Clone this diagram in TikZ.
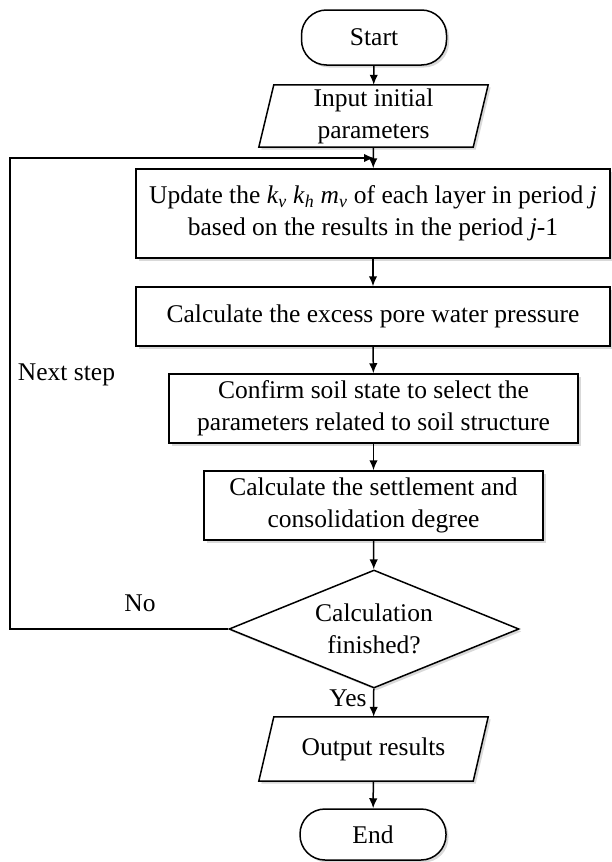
\documentclass[tikz,border=0pt]{standalone}
\usepackage{fontspec}
\setmainfont{Liberation Serif}
\usetikzlibrary{shapes.geometric,shadows,arrows.meta,backgrounds}
\begin{document}
\begin{tikzpicture}[x=1pt,y=-1pt,
  font=\fontsize{25.5}{32}\selectfont,
  shade/.style={drop shadow={shadow xshift=2.5pt, shadow yshift=-2.5pt, opacity=0.3}},
  base/.style={draw=black, line width=1.5pt, fill=white, align=center, inner sep=0pt, shade},
  procbox/.style={base, rectangle},
  termbox/.style={base, rectangle, rounded corners=25pt},
  iotext/.style={rectangle, align=center, inner sep=0pt},
  iopath/.style={draw=black, line width=1.5pt, fill=white, shade},
  decbox/.style={base, diamond, shape aspect=2.46, inner xsep=-6pt, inner ysep=-6pt},
  arr/.style={line width=1.5pt, -{Latex[length=10pt,width=8.5pt]}},
  lbl/.style={inner sep=0pt}
]
\useasboundingbox (0,0) rectangle (612,862);

\node[termbox, minimum width=145pt, minimum height=55pt] (start) at (374,37.5) {Start};
\node[iotext, minimum width=214pt, minimum height=62pt] (input) at (373.5,116) {Input initial\\parameters};
\node[procbox, minimum width=474pt, minimum height=89pt] (update) at (373,213.5)
  {Update the \textit{k}\textsubscript{\textit{v}} \textit{k}\textsubscript{\textit{h}} \textit{m}\textsubscript{\textit{v}} of each layer in period \textit{j}\\based on the results in the period \textit{j}-1};
\node[procbox, minimum width=474pt, minimum height=59pt] (excess) at (373,316.5) {Calculate the excess pore water pressure};
\node[procbox, minimum width=409pt, minimum height=69pt] (confirm) at (373.5,408.5) {Confirm soil state to select the\\parameters related to soil structure};
\node[procbox, minimum width=339pt, minimum height=69pt] (settle) at (373.5,505.5) {Calculate the settlement and\\consolidation degree};
\node[decbox, minimum width=290pt, minimum height=118pt] (dec) at (374,629) {Calculation\\finished?};
\node[iotext, minimum width=214pt, minimum height=64pt] (output) at (373.5,749) {Output results};
\node[termbox, minimum width=146pt, minimum height=51pt] (end) at (373,834.5) {End};

\begin{scope}[on background layer]
  \path[iopath] ([xshift=7.5pt]input.north west) -- ([xshift=7.5pt]input.north east)
    -- ([xshift=-7.5pt]input.south east) -- ([xshift=-7.5pt]input.south west) -- cycle;
  \path[iopath] ([xshift=7.5pt]output.north west) -- ([xshift=7.5pt]output.north east)
    -- ([xshift=-7.5pt]output.south east) -- ([xshift=-7.5pt]output.south west) -- cycle;
\end{scope}

\coordinate (loopL) at (10,158);
\coordinate (loopJ) at (374,158);

\draw[arr] (start) -- (input);
\draw[arr] (input) -- (update);
\draw[arr] (update) -- (excess);
\draw[arr] (excess) -- (confirm);
\draw[arr] (confirm) -- (settle);
\draw[arr] (settle) -- (dec);
\draw[arr] (dec) -- (output);
\draw[arr] (output) -- (end);
\draw[arr] (dec.west) -| (loopL) -- (loopJ);

\node[lbl] (nextstep) at (66.5,375) {Next step};
\node[lbl] (no) at (140,603) {No};
\node[lbl] (yes) at (348,698) {Yes};
\end{tikzpicture}
\end{document}
